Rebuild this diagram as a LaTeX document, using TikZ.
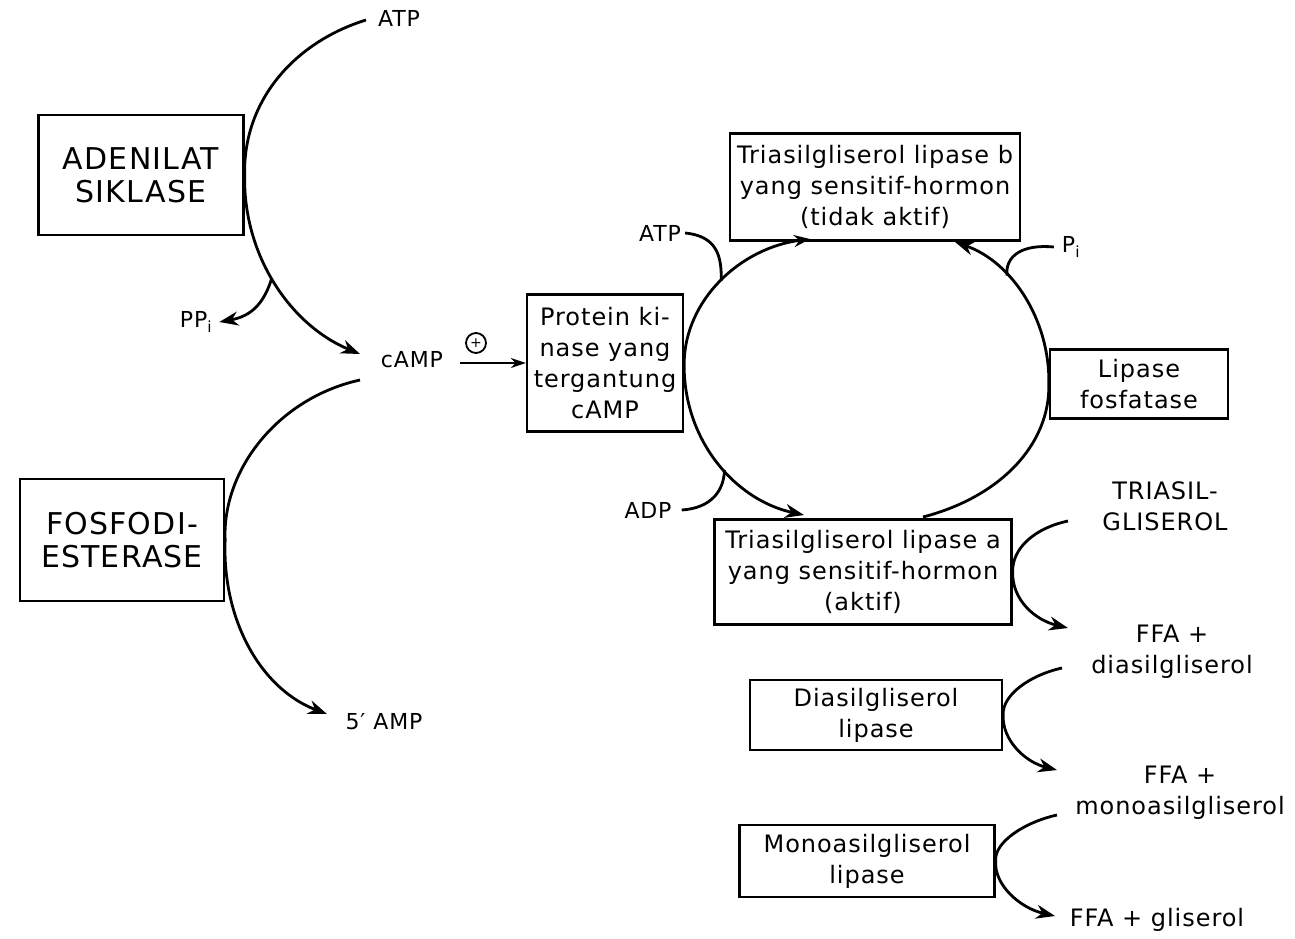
\documentclass[tikz,border=0pt]{standalone}
\usepackage{fontspec}
\setmainfont{DejaVu Sans}[LetterSpace=4]
\usetikzlibrary{arrows.meta}
\begin{document}
\begin{tikzpicture}[x=1pt,y=-1pt,
  box/.style={draw,line width=2.3pt,inner sep=0pt,align=center,
    font=\fontsize{24}{31}\selectfont},
  capbox/.style={box,font=\fontsize{30}{33}\selectfont},
  lbl/.style={inner sep=0pt,font=\fontsize{22}{26}\selectfont},
  prod/.style={inner sep=0pt,align=center,font=\fontsize{24}{31}\selectfont},
  flow/.style={line width=2.8pt},
  tip/.style={-{Stealth[length=19pt,width=14pt]}},
  smalltip/.style={-{Stealth[length=15pt,width=10pt]}},
  bothtips/.style={{Stealth[length=16pt,width=12pt]}-{Stealth[length=19pt,width=14pt]}}]
\useasboundingbox (0,0) rectangle (1295,938);
\fill[white] (0,0) rectangle (1295,938);

% enzymes of the cAMP side
\node[capbox,minimum width=205,minimum height=120] (ac) at (141,175) {ADENILAT\\SIKLASE};
\node[capbox,minimum width=204,minimum height=122] (pde) at (122,540) {FOSFODI-\\ESTERASE};

% small metabolite labels
\node[lbl] (atp1) at (399,18) {ATP};
\node[lbl] (camp) at (412,360) {cAMP};
\node[lbl] (amp) at (384,722) {5′ AMP};
\node[lbl] (ppi) at (196,322) {PP\textsubscript{i}};
\node[lbl] (atp2) at (660,233) {ATP};
\node[lbl] (adp) at (648,510) {ADP};
\node[lbl] (pi) at (1071,247) {P\textsubscript{i}};

% enzyme boxes of the lipolysis cascade
\node[box,minimum width=156,minimum height=137] (pk) at (605,363) {Protein ki-\\nase yang\\tergantung\\cAMP};
\node[box,minimum width=290,minimum height=107] (tgb) at (875,187) {Triasilgliserol lipase b\\yang sensitif-hormon\\(tidak aktif)};
\node[box,minimum width=297,minimum height=105] (tga) at (863,572) {Triasilgliserol lipase a\\yang sensitif-hormon\\(aktif)};
\node[box,minimum width=178,minimum height=69] (lf) at (1139,384) {Lipase\\fosfatase};
\node[box,minimum width=252,minimum height=70] (dg) at (876,715) {Diasilgliserol\\lipase};
\node[box,minimum width=255,minimum height=72] (mg) at (867,861) {Monoasilgliserol\\lipase};

% substrates and products
\node[prod] (tag) at (1165,506) {TRIASIL-\\GLISEROL};
\node[prod] (dag) at (1172,652) {FFA +\\diasilgliserol};
\node[prod] (mag) at (1180,793) {FFA +\\monoasilgliserol};
\node[prod] (gly) at (1157,920) {FFA + gliserol};

% free ends of the connectors
\coordinate (atp1-out) at (366,20);
\coordinate (camp-in) at (360,354);
\coordinate (camp-out) at (360,380);
\coordinate (amp-in) at (327,714);
\coordinate (pk-act) at (460,363);
\coordinate (b-left) at (810,239);
\coordinate (a-left) at (804,515);
\coordinate (a-right) at (923,517);
\coordinate (b-right) at (955,242);
\coordinate (tag-out) at (1068,521);
\coordinate (ffa1-in) at (1068,628);
\coordinate (dag-out) at (1062,668);
\coordinate (ffa2-in) at (1057,770);
\coordinate (mag-out) at (1057,815);
\coordinate (ffa3-in) at (1055,916);

% ATP -> cAMP by adenylate cyclase, releasing PPi
\draw[flow,tip] (atp1-out) .. controls (295,42) and (243,100) .. (ac.east)
  .. controls (243,255) and (290,325) .. coordinate[pos=0.47] (ppi-j) (camp-in);
\draw[flow,tip] (ppi-j) .. controls (264,303) and (252,316) .. ([xshift=7pt]ppi.east);

% cAMP -> 5' AMP by phosphodiesterase
\draw[flow,tip] (camp-out) .. controls (278,398) and (222,470) .. (pde.east)
  .. controls (222,620) and (261,689) .. (amp-in);

% cAMP activates the protein kinase
\draw[line width=2.2pt,smalltip] (pk-act) -- (pk.west);
\node[circle,draw,line width=1.8pt,minimum size=20pt,inner sep=0pt,
  font=\fontsize{14}{14}\selectfont] (plus) at (476,343) {+};

% phosphorylation cycle of the hormone-sensitive lipase
\draw[flow,bothtips] (b-left) .. controls (740,248) and (685,300) .. coordinate[pos=0.5] (atp-j) (pk.east)
  .. controls (683,440) and (735,500) .. coordinate[pos=0.55] (adp-j) (a-left);
\draw[flow] ([xshift=4pt]atp2.east) .. controls (716,236) and (722,255) .. (atp-j);
\draw[flow] (adp-j) .. controls (724,490) and (712,508) .. ([xshift=10pt]adp.east);
\draw[flow,tip] (a-right) .. controls (1000,497) and (1050,445) .. (lf.west)
  .. controls (1050,320) and (1012,262) .. coordinate[pos=0.65] (pi-j) (b-right);
\draw[flow] (pi-j) .. controls (1005,256) and (1022,244) .. ([xshift=-8pt]pi.west);

% stepwise hydrolysis of triacylglycerol
\draw[flow,tip] (tag-out) .. controls (1035,528) and (1012,548) .. (tga.east)
  .. controls (1012,600) and (1035,620) .. (ffa1-in);
\draw[flow,tip] (dag-out) .. controls (1030,675) and (1002,695) .. (dg.east)
  .. controls (1002,740) and (1025,762) .. (ffa2-in);
\draw[flow,tip] (mag-out) .. controls (1025,822) and (994,842) .. (mg.east)
  .. controls (994,885) and (1020,908) .. (ffa3-in);
\end{tikzpicture}
\end{document}
